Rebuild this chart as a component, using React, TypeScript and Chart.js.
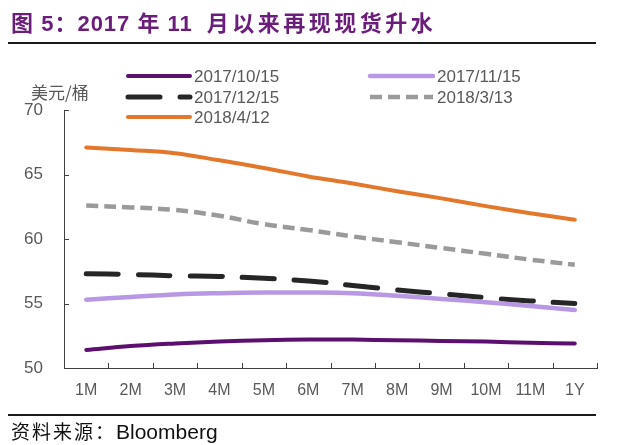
import React, { useEffect, useRef } from "react";
import { Chart, registerables } from "chart.js";

Chart.register(...registerables);

const categories = ["1M", "2M", "3M", "4M", "5M", "6M", "7M", "8M", "9M", "10M", "11M", "1Y"];
const seriesNames = ["2017/10/15", "2017/11/15", "2017/12/15", "2018/3/13", "2018/4/12"];
const s20171015 = [51.4, 51.7, 51.9, 52.05, 52.15, 52.2, 52.2, 52.15, 52.1, 52.05, 51.95, 51.9];
const s20171115 = [55.3, 55.5, 55.7, 55.8, 55.85, 55.85, 55.8, 55.6, 55.35, 55.1, 54.8, 54.5];
const s20171215 = [57.3, 57.25, 57.15, 57.1, 56.95, 56.75, 56.4, 56.05, 55.75, 55.45, 55.2, 55.0];
const s20180313 = [62.6, 62.45, 62.25, 61.8, 61.15, 60.7, 60.2, 59.75, 59.3, 58.85, 58.4, 58.0];
const s20180412 = [67.1, 66.9, 66.65, 66.1, 65.5, 64.85, 64.3, 63.7, 63.15, 62.55, 62.0, 61.5];
const yMin = 50;
const yMax = 70;
const yStep = 5;
const yUnit = "美元/桶";
const sourceLabel = "资料来源：";
const sourceName = "Bloomberg";

const AXIS_COLOR = "#404040";
const LABEL_COLOR = "#595959";
const FONT = "'Liberation Sans', Arial, sans-serif";

// legend slots: [lineStartX, lineEndX, rowY]
const legendSlots: [number, number, number][] = [
  [128, 190, 76],
  [370, 433, 76],
  [128, 190, 97],
  [370, 433, 97],
  [128, 190, 117],
];

const decorPlugin = {
  id: "decor",
  afterDraw(chart: any) {
    const ctx = chart.ctx as CanvasRenderingContext2D;
    const x = chart.scales.x;
    const y = chart.scales.y;
    const area = chart.chartArea;
    ctx.save();
    ctx.strokeStyle = AXIS_COLOR;
    ctx.lineWidth = 1;
    ctx.setLineDash([]);
    // inward y ticks
    y.ticks.forEach((t: any) => {
      const py = Math.round(y.getPixelForValue(t.value)) + 0.5;
      ctx.beginPath();
      ctx.moveTo(area.left, py);
      ctx.lineTo(area.left + 5, py);
      ctx.stroke();
    });
    // inward x ticks at category boundaries
    const n = categories.length;
    for (let i = 1; i <= n; i++) {
      const px = Math.round(x.left + (i * (x.right - x.left)) / n) + 0.5;
      ctx.beginPath();
      ctx.moveTo(px, area.bottom);
      ctx.lineTo(px, area.bottom - 5);
      ctx.stroke();
    }
    // legend
    chart.data.datasets.forEach((ds: any, i: number) => {
      const slot = legendSlots[i];
      if (!slot) return;
      const [x0, x1, ry] = slot;
      ctx.save();
      ctx.strokeStyle = ds.borderColor;
      ctx.lineWidth = ds.borderWidth;
      ctx.lineCap = ds.borderCapStyle || "butt";
      ctx.setLineDash(ds.borderDash || []);
      ctx.beginPath();
      ctx.moveTo(x0, ry);
      ctx.lineTo(x1, ry);
      ctx.stroke();
      ctx.restore();
      ctx.fillStyle = LABEL_COLOR;
      ctx.font = `17px ${FONT}`;
      ctx.textBaseline = "middle";
      ctx.textAlign = "left";
      ctx.fillText(ds.label, x1 + 4, ry + 1);
    });
    // unit
    ctx.fillStyle = LABEL_COLOR;
    ctx.font = `17px 'Noto Sans CJK SC', ${FONT}`;
    ctx.textBaseline = "middle";
    ctx.textAlign = "left";
    ctx.fillText(yUnit, 31, 93);
    ctx.restore();
  },
};

export default function App() {
  const ref = useRef<HTMLCanvasElement | null>(null);

  useEffect(() => {
    if (!ref.current) return;
    const chart = new Chart(ref.current, {
      type: "line",
      data: {
        labels: categories,
        datasets: [
          {
            label: seriesNames[0],
            data: s20171015,
            borderColor: "#5c0f6e",
            borderWidth: 4,
            borderCapStyle: "round",
          },
          {
            label: seriesNames[1],
            data: s20171115,
            borderColor: "#b898e4",
            borderWidth: 4.5,
            borderCapStyle: "round",
          },
          {
            label: seriesNames[2],
            data: s20171215,
            borderColor: "#262626",
            borderWidth: 5,
            borderDash: [32, 20],
            borderCapStyle: "round",
          },
          {
            label: seriesNames[3],
            data: s20180313,
            borderColor: "#9a9a9a",
            borderWidth: 4.5,
            borderDash: [12, 6],
            borderCapStyle: "butt",
          },
          {
            label: seriesNames[4],
            data: s20180412,
            borderColor: "#e3772b",
            borderWidth: 4,
            borderCapStyle: "round",
          },
        ] as any,
      },
      options: {
        responsive: false,
        animation: false,
        maintainAspectRatio: false,
        elements: {
          point: { radius: 0, hoverRadius: 0 },
          line: { tension: 0.4, fill: false },
        },
        layout: { padding: { top: 110, right: 43, left: 0, bottom: 0 } },
        plugins: {
          legend: { display: false },
          title: { display: false },
          tooltip: { enabled: false },
        },
        scales: {
          x: {
            type: "category",
            offset: true,
            grid: { display: true, drawOnChartArea: false, drawTicks: false },
            border: { display: true, color: AXIS_COLOR, width: 1 },
            ticks: {
              color: LABEL_COLOR,
              font: { family: FONT, size: 16 },
              padding: 13,
              maxRotation: 0,
              autoSkip: false,
            },
            afterFit: (s: any) => {
              s.height = 77;
            },
          },
          y: {
            min: yMin,
            max: yMax,
            grid: { display: true, drawOnChartArea: false, drawTicks: false },
            border: { display: true, color: AXIS_COLOR, width: 1 },
            ticks: {
              stepSize: yStep,
              color: LABEL_COLOR,
              font: { family: FONT, size: 17 },
              padding: 21,
            },
            afterFit: (s: any) => {
              s.width = 64;
            },
          },
        },
      },
      plugins: [decorPlugin],
    });
    return () => chart.destroy();
  }, []);

  const cjk = "'Noto Sans CJK SC', sans-serif";
  const latin = "'Liberation Sans', Arial, sans-serif";
  return (
    <div
      style={{
        position: "fixed",
        left: 0,
        top: 0,
        width: 640,
        height: 445,
        background: "#fff",
        overflow: "hidden",
      }}
    >
      <canvas ref={ref} width={640} height={445} style={{ position: "absolute", left: 0, top: 0 }} />
      <div
        style={{
          position: "absolute",
          left: 11,
          top: 8,
          color: "#6a1d7b",
          fontWeight: "bold",
          fontSize: 22,
          lineHeight: "26px",
          whiteSpace: "nowrap",
          fontFamily: latin,
          letterSpacing: 1,
        }}
      >
        <span style={{ fontFamily: cjk }}>图</span>
        <span> 5</span>
        <span style={{ fontFamily: cjk }}>：</span>
        <span>2017 </span>
        <span style={{ fontFamily: cjk }}>年</span>
        <span> 11</span>
        <span style={{ fontFamily: cjk, letterSpacing: 3.5, marginLeft: 14 }}>月以来再现现货升水</span>
      </div>
      <div style={{ position: "absolute", left: 8, top: 42, width: 588, height: 2, background: "#1a1a1a" }} />
      <div style={{ position: "absolute", left: 8, top: 414, width: 588, height: 2, background: "#1a1a1a" }} />
      <div
        style={{
          position: "absolute",
          left: 11,
          top: 419,
          color: "#111",
          whiteSpace: "nowrap",
          lineHeight: "24px",
        }}
      >
        <span style={{ fontFamily: cjk, fontSize: 19, letterSpacing: 2 }}>{sourceLabel}</span>
        <span style={{ fontFamily: latin, fontSize: 21 }}>{sourceName}</span>
      </div>
    </div>
  );
}
